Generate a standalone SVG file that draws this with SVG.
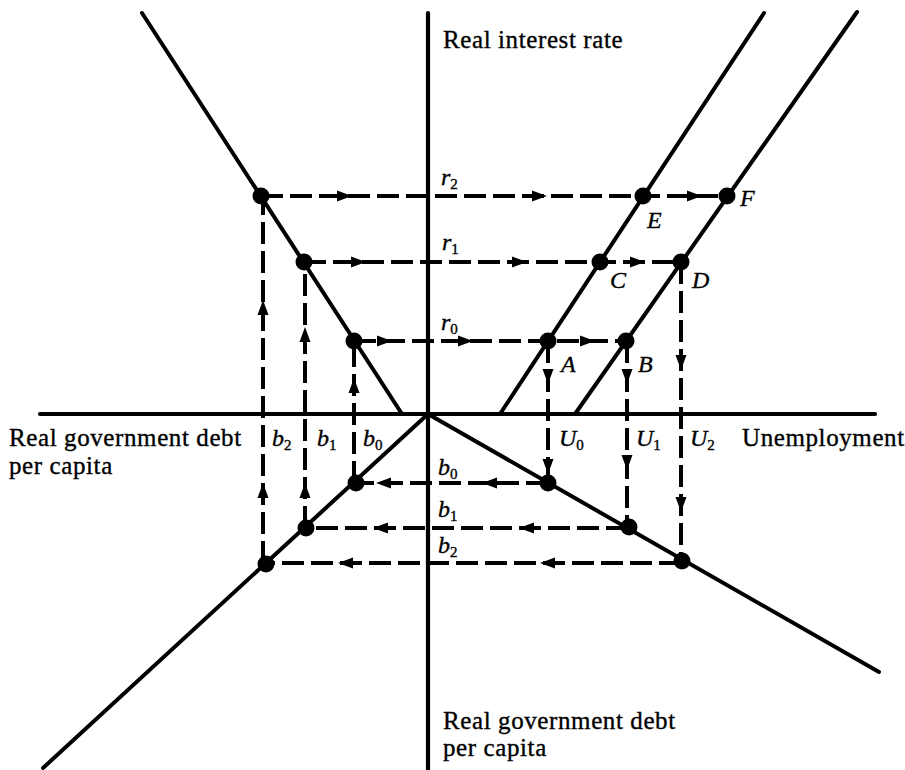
<svg xmlns="http://www.w3.org/2000/svg" width="905" height="770" viewBox="0 0 905 770">
<style>
.ax{stroke:#000;stroke-width:4.2;fill:none;stroke-linecap:round}
.ln{stroke:#000;stroke-width:4;fill:none;stroke-linecap:round}
.dl{stroke:#000;stroke-width:4;fill:none;stroke-dasharray:22 7}
.dot{fill:#000}
.t{font-family:"Liberation Serif","Times New Roman",serif;font-size:25px;letter-spacing:0.6px;fill:#000;stroke:#000;stroke-width:0.35}
.v{font-family:"Liberation Serif","Times New Roman",serif;font-size:24px;font-style:italic;fill:#000;stroke:#000;stroke-width:0.35}
.s{font-size:15px;font-style:normal}
</style>
<defs><path id="ah" d="M0,0 L-15,-5.5 L-15,5.5 Z" fill="#000"/></defs>

<g id="axes">
<line class="ax" x1="428" y1="13" x2="428" y2="770"/>
<line class="ax" x1="40" y1="414" x2="875" y2="414"/>
</g>
<g id="curves">
<line class="ln" x1="142" y1="13" x2="402" y2="414"/>
<line class="ln" x1="500" y1="414" x2="764" y2="13"/>
<line class="ln" x1="575" y1="414" x2="857" y2="12"/>
<line class="ln" x1="428" y1="414" x2="43" y2="768"/>
<line class="ln" x1="428" y1="414" x2="879" y2="672"/>
</g>

<g id="connectors">
<line class="dl" x1="261" y1="196" x2="727" y2="196"/>
<line class="dl" x1="304" y1="262" x2="681" y2="262"/>
<line class="dl" x1="354" y1="341" x2="626" y2="341"/>
<line class="dl" x1="548" y1="483" x2="353" y2="483"/>
<line class="dl" x1="628" y1="528" x2="304" y2="528"/>
<line class="dl" x1="681" y1="563" x2="265" y2="563"/>
<line class="dl" x1="263" y1="563" x2="263" y2="196"/>
<line class="dl" x1="305" y1="528" x2="305" y2="262"/>
<line class="dl" x1="354" y1="483" x2="354" y2="341"/>
<line class="dl" x1="548" y1="341" x2="548" y2="483"/>
<line class="dl" x1="627" y1="341" x2="627" y2="528"/>
<line class="dl" x1="681" y1="262" x2="681" y2="561"/>
<use href="#ah" transform="translate(352,196)"/>
<use href="#ah" transform="translate(547,196)"/>
<use href="#ah" transform="translate(702,196)"/>
<use href="#ah" transform="translate(366,262)"/>
<use href="#ah" transform="translate(527,262)"/>
<use href="#ah" transform="translate(645,262)"/>
<use href="#ah" transform="translate(392,341)"/>
<use href="#ah" transform="translate(473,341)"/>
<use href="#ah" transform="translate(595,341)"/>
<use href="#ah" transform="translate(263,300) rotate(-90)"/>
<use href="#ah" transform="translate(263,483) rotate(-90)"/>
<use href="#ah" transform="translate(305,327) rotate(-90)"/>
<use href="#ah" transform="translate(305,483) rotate(-90)"/>
<use href="#ah" transform="translate(354,378) rotate(-90)"/>
<use href="#ah" transform="translate(548,384) rotate(90)"/>
<use href="#ah" transform="translate(548,474) rotate(90)"/>
<use href="#ah" transform="translate(627,384) rotate(90)"/>
<use href="#ah" transform="translate(627,470) rotate(90)"/>
<use href="#ah" transform="translate(681,370) rotate(90)"/>
<use href="#ah" transform="translate(681,512) rotate(90)"/>
<use href="#ah" transform="translate(376,483) rotate(180)"/>
<use href="#ah" transform="translate(482,483) rotate(180)"/>
<use href="#ah" transform="translate(373,528) rotate(180)"/>
<use href="#ah" transform="translate(519,528) rotate(180)"/>
<use href="#ah" transform="translate(338,563) rotate(180)"/>
<use href="#ah" transform="translate(540,563) rotate(180)"/>
</g>

<g id="node-r2-left"><circle class="dot" cx="261" cy="196" r="8.5"/></g>
<g id="node-r1-left"><circle class="dot" cx="304" cy="262" r="8.5"/></g>
<g id="node-r0-left"><circle class="dot" cx="354" cy="341" r="8.5"/></g>
<g id="node-E"><circle class="dot" cx="643" cy="196" r="8.5"/><text class="v" x="647" y="228">E</text></g>
<g id="node-F"><circle class="dot" cx="727" cy="196" r="8.5"/><text class="v" x="740" y="206">F</text></g>
<g id="node-C"><circle class="dot" cx="600" cy="262" r="8.5"/><text class="v" x="610" y="288">C</text></g>
<g id="node-D"><circle class="dot" cx="681" cy="262" r="8.5"/><text class="v" x="692" y="288">D</text></g>
<g id="node-A"><circle class="dot" cx="548" cy="341" r="8.5"/><text class="v" x="561" y="372">A</text></g>
<g id="node-B"><circle class="dot" cx="626" cy="341" r="8.5"/><text class="v" x="638" y="372">B</text></g>
<g id="node-b0-left"><circle class="dot" cx="356" cy="483" r="8.5"/></g>
<g id="node-b1-left"><circle class="dot" cx="306" cy="528" r="8.5"/></g>
<g id="node-b2-left"><circle class="dot" cx="266" cy="564" r="8.5"/></g>
<g id="node-b0-right"><circle class="dot" cx="548" cy="483" r="8.5"/></g>
<g id="node-b1-right"><circle class="dot" cx="629" cy="527" r="8.5"/></g>
<g id="node-b2-right"><circle class="dot" cx="682" cy="561" r="8.5"/></g>

<g id="labels">
<text class="t" x="443" y="48">Real interest rate</text>
<text class="t" x="9" y="446">Real government debt</text>
<text class="t" x="9" y="474">per capita</text>
<text class="t" x="742" y="446">Unemployment</text>
<text class="t" x="443" y="729">Real government debt</text>
<text class="t" x="443" y="756">per capita</text>
<text class="v" x="441" y="185">r<tspan class="s" dy="4">2</tspan></text>
<text class="v" x="442" y="250">r<tspan class="s" dy="4">1</tspan></text>
<text class="v" x="441" y="330">r<tspan class="s" dy="4">0</tspan></text>
<text class="v" x="272" y="446">b<tspan class="s" dy="4">2</tspan></text>
<text class="v" x="317" y="446">b<tspan class="s" dy="4">1</tspan></text>
<text class="v" x="363" y="446">b<tspan class="s" dy="4">0</tspan></text>
<text class="v" x="559" y="446">U<tspan class="s" dy="4">0</tspan></text>
<text class="v" x="636" y="446">U<tspan class="s" dy="4">1</tspan></text>
<text class="v" x="690" y="446">U<tspan class="s" dy="4">2</tspan></text>
<text class="v" x="438" y="475">b<tspan class="s" dy="4">0</tspan></text>
<text class="v" x="438" y="517">b<tspan class="s" dy="4">1</tspan></text>
<text class="v" x="438" y="553">b<tspan class="s" dy="4">2</tspan></text>
</g>
</svg>
